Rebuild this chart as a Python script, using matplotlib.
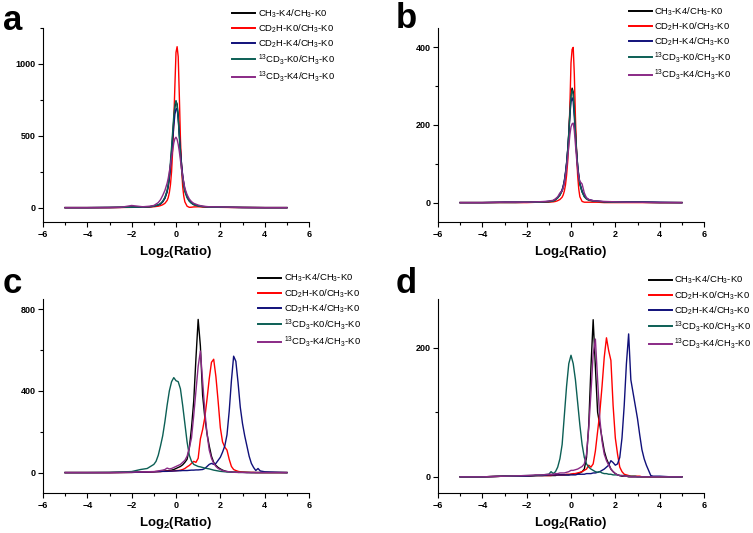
import numpy as np;
import matplotlib;
matplotlib.use("Agg");
import matplotlib.pyplot as plt;
from matplotlib.ticker import MultipleLocator;

plt.rcParams["font.family"] = ["Liberation Sans", "DejaVu Sans"];
plt.rcParams["mathtext.fontset"] = "custom";
plt.rcParams["mathtext.rm"] = "Liberation Sans";
plt.rcParams["mathtext.it"] = "Liberation Sans:italic";
plt.rcParams["mathtext.bf"] = "Liberation Sans:bold";

series_labels = [r"CH$_3$-K4/CH$_3$-K0", r"CD$_2$H-K0/CH$_3$-K0", r"CD$_2$H-K4/CH$_3$-K0",
                 r"$^{13}$CD$_3$-K0/CH$_3$-K0", r"$^{13}$CD$_3$-K4/CH$_3$-K0"];
series_colors = ["#000000", "#ff0000", "#10107a", "#0c5f55", "#8a2a86"];

# log2 ratio bins, panels a and b
grid_ab = [-5, -4, -3, -2.5, -2, -1.5, -1.2, -1.0, -0.8, -0.7,
           -0.6, -0.5, -0.4, -0.35, -0.3, -0.25, -0.2, -0.15, -0.1, -0.05,
           0.0, 0.05, 0.1, 0.15, 0.2, 0.25, 0.3, 0.35, 0.4, 0.5,
           0.6, 0.7, 0.8, 1.0, 1.2, 1.5, 2.0, 2.5, 3.0, 4.0, 5.0];

a_black  = [0, 0, 1, 2, 3, 4, 6, 10, 18, 25, 40, 65, 110, 150, 210, 290, 390, 500, 610, 700,
            740, 720, 640, 520, 400, 300, 220, 165, 120, 75, 48, 32, 22, 12, 8, 4, 3, 2, 1, 0, 0];
a_red    = [0, 0, 0, 1, 2, 3, 4, 6, 10, 14, 20, 30, 50, 70, 105, 160, 250, 400, 600, 850,
            1080, 1120, 1050, 780, 480, 280, 150, 80, 40, 10, 2, 3, 5, 6, 4, 3, 2, 1, 1, 0, 0];
a_blue   = [0, 0, 1, 2, 3, 4, 6, 10, 18, 26, 42, 68, 112, 150, 205, 280, 370, 470, 570, 650,
            685, 690, 620, 510, 400, 300, 225, 170, 125, 78, 50, 33, 23, 13, 8, 5, 3, 2, 1, 0, 0];
a_teal   = [0, 0, 1, 2, 3, 4, 6, 10, 20, 28, 45, 72, 120, 165, 230, 320, 420, 530, 640, 715,
            745, 710, 620, 490, 370, 270, 200, 150, 110, 68, 44, 30, 20, 11, 7, 4, 3, 2, 1, 0, 0];
a_purple = [0, 0, 1, 2, 15, 6, 10, 15, 35, 55, 85, 120, 170, 205, 250, 300, 350, 400, 450, 480,
            490, 475, 440, 390, 330, 270, 220, 175, 135, 90, 60, 42, 30, 18, 10, 6, 5, 3, 1, 0, 0];

b_black  = [0, 0, 1, 1, 1, 2, 2, 3, 5, 8, 13, 20, 32, 42, 55, 75, 100, 135, 180, 235,
            280, 295, 285, 240, 185, 135, 95, 68, 48, 28, 16, 10, 7, 4, 3, 2, 1, 1, 1, 0, 0];
b_red    = [0, 0, 0, 0, 0, 1, 1, 1, 2, 3, 5, 8, 14, 20, 30, 45, 70, 105, 160, 250,
            360, 395, 400, 330, 220, 130, 70, 35, 15, 3, 1, 1, 1, 1, 1, 0, 0, 0, 0, 0, 0];
b_blue   = [0, 0, 1, 1, 1, 2, 2, 3, 5, 8, 13, 21, 33, 43, 57, 77, 102, 135, 175, 225,
            260, 270, 260, 220, 175, 130, 95, 70, 50, 30, 18, 12, 8, 5, 4, 2, 2, 2, 2, 1, 0];
b_teal   = [0, 0, 0, 0, 1, 1, 2, 2, 4, 7, 12, 19, 30, 40, 53, 72, 98, 132, 176, 230,
            275, 290, 280, 235, 180, 130, 92, 66, 47, 27, 15, 9, 6, 4, 3, 2, 1, 1, 1, 0, 0];
b_purple = [0, 0, 1, 1, 1, 2, 3, 4, 6, 10, 15, 25, 30, 38, 50, 68, 90, 115, 145, 175,
            195, 203, 205, 185, 150, 115, 85, 65, 55, 48, 25, 12, 8, 5, 4, 3, 2, 1, 1, 0, 0];

# log2 ratio bins, panels c and d
grid_cd = [-5, -4, -3, -2, -1.6, -1.3, -1.0,
           -0.9, -0.8, -0.7, -0.6, -0.5, -0.4, -0.3, -0.2, -0.1, 0.0,
           0.1, 0.2, 0.3, 0.4, 0.5, 0.6, 0.7, 0.8, 0.9, 1.0,
           1.1, 1.2, 1.3, 1.4, 1.5, 1.6, 1.7, 1.8, 1.9, 2.0,
           2.1, 2.2, 2.3, 2.4, 2.5, 2.6, 2.7, 2.8, 2.9, 3.0,
           3.1, 3.2, 3.3, 3.4, 3.5, 3.6, 3.7, 3.8,
           4.0, 4.5, 5.0];

c_black  = [0, 0, 0, 1, 2, 3, 4,
            5, 5, 6, 7, 8, 9, 10, 12, 15, 20,
            25, 30, 38, 50, 65, 120, 220, 350, 560, 750,
            620, 380, 270, 190, 130, 80, 50, 35, 25, 18,
            12, 8, 5, 4, 3, 2, 2, 1, 1, 1,
            1, 0, 0, 0, 0, 0, 0, 0,
            0, 0, 0];
c_red    = [0, 0, 0, 1, 2, 3, 4,
            5, 5, 5, 6, 6, 7, 7, 8, 8, 10,
            10, 12, 15, 20, 28, 35, 45, 55, 50, 70,
            165, 210, 270, 360, 460, 540, 555, 470, 350, 220,
            150, 125, 110, 65, 30, 15, 10, 6, 4, 3,
            2, 2, 1, 1, 1, 0, 0, 0,
            0, 0, 0];
c_blue   = [0, 0, 0, 1, 2, 3, 4,
            4, 5, 5, 6, 6, 6, 7, 7, 8, 8,
            9, 9, 10, 10, 10, 11, 12, 12, 13, 13,
            14, 15, 20, 30, 40, 45, 40, 45, 60, 75,
            100, 130, 185, 300, 450, 570, 545, 440, 320, 240,
            180, 130, 80, 45, 25, 10, 20, 8,
            4, 2, 0];
c_teal   = [0, 0, 1, 5, 15, 20, 40,
            55, 85, 130, 180, 250, 330, 400, 445, 465, 450,
            445, 410, 330, 240, 150, 85, 55, 40, 35, 30,
            28, 25, 22, 20, 18, 15, 12, 10, 8, 6,
            5, 4, 3, 3, 2, 2, 2, 1, 1, 1,
            1, 1, 1, 0, 0, 0, 0, 0,
            0, 0, 0];
c_purple = [0, 0, 0, 2, 3, 4, 5,
            6, 8, 10, 12, 15, 22, 18, 20, 25, 30,
            35, 40, 50, 60, 80, 120, 170, 280, 400, 520,
            595, 450, 300, 190, 110, 70, 45, 30, 20, 15,
            10, 7, 5, 4, 3, 2, 1, 1, 1, 1,
            0, 0, 0, 0, 0, 0, 0, 0,
            0, 0, 0];

d_black  = [0, 0, 1, 1, 2, 2, 2,
            2, 2, 2, 3, 3, 3, 3, 3, 3, 4,
            4, 5, 5, 6, 8, 12, 30, 80, 170, 243,
            170, 100, 80, 60, 40, 28, 20, 12, 8, 5,
            3, 2, 1, 1, 1, 0, 0, 0, 0, 0,
            0, 0, 0, 0, 0, 0, 0, 0,
            0, 0, 0];
d_red    = [0, 0, 1, 1, 2, 2, 2,
            2, 3, 3, 3, 3, 3, 3, 4, 4, 4,
            5, 5, 6, 7, 8, 10, 12, 18, 15, 20,
            40, 70, 100, 140, 185, 215, 195, 180, 110, 60,
            35, 15, 8, 4, 3, 2, 1, 1, 1, 1,
            1, 0, 0, 0, 0, 0, 0, 0,
            0, 0, 0];
d_blue   = [0, 0, 1, 1, 2, 2, 3,
            3, 3, 3, 3, 3, 3, 3, 3, 3, 3,
            3, 3, 4, 4, 4, 4, 5, 5, 5, 6,
            6, 7, 8, 10, 12, 15, 18, 25, 22, 18,
            20, 30, 60, 110, 175, 221, 150, 130, 110, 90,
            65, 42, 28, 18, 10, 2, 1, 1,
            1, 0, 0];
d_teal   = [0, 0, 1, 2, 2, 3, 4,
            8, 5, 8, 15, 28, 50, 95, 140, 175, 188,
            175, 150, 115, 80, 50, 30, 20, 15, 12, 10,
            8, 7, 8, 6, 5, 5, 4, 4, 3, 3,
            3, 2, 2, 2, 1, 1, 1, 1, 1, 0,
            0, 0, 0, 0, 0, 0, 0, 0,
            0, 0, 0];
d_purple = [0, 0, 1, 2, 3, 3, 4,
            4, 4, 5, 5, 6, 6, 6, 7, 8, 10,
            10, 11, 12, 14, 16, 20, 35, 75, 130, 190,
            213, 150, 90, 55, 35, 25, 18, 12, 8, 5,
            3, 2, 2, 1, 1, 1, 0, 0, 0, 0,
            0, 0, 0, 0, 0, 0, 0, 0,
            0, 0, 0];


def DrawPanel(fig, rect, letter, letter_xy, grid, curves, ylim, ymajor, legend_xy):
    ax = fig.add_axes(rect);
    for values, color, label in zip(curves, series_colors, series_labels):
        ax.plot(grid, values, color=color, lw=1.0, label=label);

    ax.set_xlim(-6, 6);
    ax.set_ylim(*ylim);
    ax.xaxis.set_major_locator(MultipleLocator(2));
    ax.xaxis.set_minor_locator(MultipleLocator(1));
    ax.yaxis.set_major_locator(MultipleLocator(ymajor));
    ax.yaxis.set_minor_locator(MultipleLocator(ymajor / 2));
    for side in ["top", "right"]:
        ax.spines[side].set_visible(False);
    for side in ["left", "bottom"]:
        ax.spines[side].set_linewidth(0.8);
    ax.tick_params(which="major", direction="out", length=3.5, width=0.8, labelsize=6.5, pad=2);
    ax.tick_params(which="minor", direction="out", length=2, width=0.8);
    for lbl in ax.get_xticklabels() + ax.get_yticklabels():
        lbl.set_fontweight("bold");

    ax.set_xlabel(r"Log$_\mathbf{2}$(Ratio)", fontsize=9.5, fontweight="bold", labelpad=4);

    leg = ax.legend(loc="upper left", bbox_to_anchor=legend_xy, bbox_transform=fig.transFigure,
                    frameon=False, fontsize=6.8, handlelength=2.4, handletextpad=0.3,
                    labelspacing=0.27, borderpad=0, borderaxespad=0);
    for line in leg.get_lines():
        line.set_linewidth(1.4);

    fig.text(letter_xy[0] / 753, 1 - letter_xy[1] / 533, letter, fontsize=25,
             fontweight="bold", va="baseline", ha="left");
    return ax;


fig = plt.figure(figsize=(7.53, 5.33), dpi=100);

DrawPanel(fig, [43 / 753, 1 - 222 / 533, 266 / 753, 194 / 533], "a", (3, 30), grid_ab,
          [a_black, a_red, a_blue, a_teal, a_purple], (-100, 1250), 500, (232 / 753, 1 - 7 / 533));
DrawPanel(fig, [438 / 753, 1 - 222 / 533, 266 / 753, 194 / 533], "b", (396, 28), grid_ab,
          [b_black, b_red, b_blue, b_teal, b_purple], (-50, 450), 200, (629 / 753, 1 - 5 / 533));
DrawPanel(fig, [43 / 753, 1 - 493 / 533, 266 / 753, 194 / 533], "c", (3, 293), grid_cd,
          [c_black, c_red, c_blue, c_teal, c_purple], (-100, 850), 400, (258 / 753, 1 - 272 / 533));
DrawPanel(fig, [438 / 753, 1 - 493 / 533, 266 / 753, 194 / 533], "d", (396, 293), grid_cd,
          [d_black, d_red, d_blue, d_teal, d_purple], (-25, 275), 200, (649 / 753, 1 - 274 / 533));

fig.savefig("out.png", dpi=100);
